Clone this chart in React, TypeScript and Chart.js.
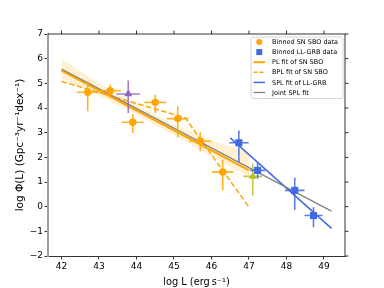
import React, { useEffect, useRef } from 'react';
import { Chart, registerables } from 'chart.js';

Chart.register(...registerables);

// Binned SN SBO data
const sboX = [42.7, 43.3, 43.9, 44.5, 45.1, 45.7, 46.3];
const sboY = [4.64, 4.7, 3.42, 4.23, 3.57, 2.65, 1.41];
const sboYLo = [3.87, 4.41, 2.99, 3.8, 2.81, 2.25, 0.66];
const sboYHi = [5.08, 4.95, 3.76, 4.54, 4.07, 3.02, 1.91];
const sboXErr = [0.29, 0.29, 0.29, 0.29, 0.29, 0.29, 0.29];

// Extra single points
const purpleX = [43.78];
const purpleY = [4.57];
const purpleYLo = [3.8];
const purpleYHi = [5.11];
const purpleXErr = [0.31];

const oliveX = [47.1];
const oliveY = [1.23];
const oliveYLo = [0.45];
const oliveYHi = [1.74];
const oliveXErr = [0.25];

// Binned LL-GRB data
const grbX = [46.73, 47.23, 48.22, 48.72];
const grbY = [2.59, 1.47, 0.66, -0.36];
const grbYLo = [1.78, 1.13, -0.14, -0.83];
const grbYHi = [3.09, 1.78, 1.17, -0.02];
const grbXErr = [0.26, 0.2, 0.26, 0.24];

// Fits
const plX = [42, 47];
const plY = [5.52, 1.47];
const bplX = [42, 45.3, 47];
const bplY = [5.08, 3.6, -0.02];
const splX = [46.5, 49.2];
const splY = [2.79, -0.88];
const jointX = [42, 49.2];
const jointY = [5.58, -0.18];

// Confidence band of PL fit
const bandX = [42, 43, 44, 45, 46, 47];
const bandUpper = [6.0, 5.0, 4.12, 3.32, 2.68, 2.2];
const bandLower = [5.2, 4.5, 3.75, 2.9, 2.05, 1.2];

const xTicksMin = 41.64;
const xTicksMax = 49.56;
const yMin = -2;
const yMax = 7;

const ORANGE = '#FFA500';
const BLUE = '#4169E1';
const PURPLE = '#9467bd';
const OLIVE = '#bcbd22';
const GRAY = '#808080';
const FONT = "'DejaVu Sans', sans-serif";

const pts = (xs: number[], ys: number[]) => xs.map((x, i) => ({ x, y: ys[i] }));
const errs = (lo: number[], hi: number[], xe: number[]) => lo.map((l, i) => ({ lo: l, hi: hi[i], xerr: xe[i] }));

const errorBarPlugin = {
  id: 'errorBars',
  beforeDatasetDraw(chart: any, args: any) {
    const ds = chart.data.datasets[args.index];
    if (!ds.errorBars) return;
    const { ctx } = chart;
    const x = chart.scales.x;
    const y = chart.scales.y;
    ctx.save();
    ctx.strokeStyle = ds.errorColor;
    ctx.globalAlpha = 0.85;
    ctx.lineWidth = 1.6;
    ds.data.forEach((p: any, i: number) => {
      const e = ds.errorBars[i];
      const px = x.getPixelForValue(p.x);
      const py = y.getPixelForValue(p.y);
      ctx.beginPath();
      ctx.moveTo(x.getPixelForValue(p.x - e.xerr), py);
      ctx.lineTo(x.getPixelForValue(p.x + e.xerr), py);
      ctx.moveTo(px, y.getPixelForValue(e.lo));
      ctx.lineTo(px, y.getPixelForValue(e.hi));
      ctx.stroke();
    });
    ctx.restore();
  },
};

const framePlugin = {
  id: 'frame',
  afterDraw(chart: any) {
    const { ctx, chartArea } = chart;
    const { left, right, top, bottom } = chartArea;
    const x = chart.scales.x;
    const y = chart.scales.y;
    ctx.save();
    ctx.strokeStyle = '#000';
    ctx.lineWidth = 0.8;
    ctx.beginPath();
    ctx.moveTo(left, top);
    ctx.lineTo(right, top);
    ctx.lineTo(right, bottom);
    x.ticks.forEach((t: any) => {
      const px = x.getPixelForValue(t.value);
      ctx.moveTo(px, top);
      ctx.lineTo(px, top - 3.5);
    });
    y.ticks.forEach((t: any) => {
      const py = y.getPixelForValue(t.value);
      ctx.moveTo(right, py);
      ctx.lineTo(right + 3.5, py);
    });
    ctx.stroke();
    ctx.restore();
  },
};

const legendPlugin = {
  id: 'customLegend',
  afterDraw(chart: any) {
    const { ctx } = chart;
    const entries = chart.data.datasets.filter((d: any) => d.legendKind);
    const bx = 251;
    const by = 37;
    const bw = 92;
    const bh = 61.5;
    ctx.save();
    ctx.beginPath();
    const r = 2;
    ctx.moveTo(bx + r, by);
    ctx.lineTo(bx + bw - r, by);
    ctx.quadraticCurveTo(bx + bw, by, bx + bw, by + r);
    ctx.lineTo(bx + bw, by + bh - r);
    ctx.quadraticCurveTo(bx + bw, by + bh, bx + bw - r, by + bh);
    ctx.lineTo(bx + r, by + bh);
    ctx.quadraticCurveTo(bx, by + bh, bx, by + bh - r);
    ctx.lineTo(bx, by + r);
    ctx.quadraticCurveTo(bx, by, bx + r, by);
    ctx.closePath();
    ctx.fillStyle = 'rgba(255,255,255,0.8)';
    ctx.fill();
    ctx.strokeStyle = '#cccccc';
    ctx.lineWidth = 0.8;
    ctx.stroke();
    ctx.font = `6.5px ${FONT}`;
    ctx.textBaseline = 'middle';
    ctx.textAlign = 'left';
    entries.forEach((d: any, i: number) => {
      const cy = by + 5 + i * 10.1;
      const hx0 = 253.5;
      const hx1 = 265;
      const col = d.legendColor;
      if (d.legendKind === 'circle') {
        ctx.fillStyle = col;
        ctx.beginPath();
        ctx.arc((hx0 + hx1) / 2, cy, 3, 0, Math.PI * 2);
        ctx.fill();
      } else if (d.legendKind === 'square') {
        ctx.fillStyle = col;
        ctx.fillRect((hx0 + hx1) / 2 - 3, cy - 3, 6, 6);
      } else {
        ctx.strokeStyle = col;
        ctx.lineWidth = d.borderWidth;
        ctx.setLineDash(d.legendKind === 'dashed' ? [4, 2] : []);
        ctx.beginPath();
        ctx.moveTo(hx0, cy);
        ctx.lineTo(hx1, cy);
        ctx.stroke();
        ctx.setLineDash([]);
      }
      ctx.fillStyle = '#000';
      ctx.fillText(d.label, 272, cy + 0.5);
    });
    ctx.restore();
  },
};

const minusFmt = (v: number) => (v < 0 ? '\u2212' + Math.abs(v) : String(v));

export default function App() {
  const ref = useRef<HTMLCanvasElement | null>(null);

  useEffect(() => {
    document.body.style.margin = '0';
    if (!ref.current) return;
    const lineBase = { showLine: true, pointRadius: 0, pointHoverRadius: 0, fill: false, tension: 0 };
    const chart = new Chart(ref.current, {
      type: 'scatter',
      data: {
        datasets: [
          {
            label: 'Binned SN SBO data',
            data: pts(sboX, sboY),
            backgroundColor: ORANGE,
            borderColor: ORANGE,
            pointRadius: 3.7,
            pointStyle: 'circle',
            borderWidth: 0,
            order: 1,
            errorBars: errs(sboYLo, sboYHi, sboXErr),
            errorColor: ORANGE,
            legendKind: 'circle',
            legendColor: ORANGE,
          } as any,
          {
            label: 'Binned LL-GRB data',
            data: pts(grbX, grbY),
            backgroundColor: BLUE,
            borderColor: BLUE,
            pointRadius: 5,
            pointStyle: 'rect',
            borderWidth: 0,
            order: 1,
            errorBars: errs(grbYLo, grbYHi, grbXErr),
            errorColor: BLUE,
            legendKind: 'square',
            legendColor: BLUE,
          } as any,
          {
            ...lineBase,
            label: 'PL fit of SN SBO',
            data: pts(plX, plY),
            borderColor: ORANGE,
            borderWidth: 2,
            order: 3,
            legendKind: 'line',
            legendColor: ORANGE,
          } as any,
          {
            ...lineBase,
            label: 'BPL fit of SN SBO',
            data: pts(bplX, bplY),
            borderColor: ORANGE,
            borderWidth: 1.5,
            borderDash: [5.5, 2.5],
            order: 3,
            legendKind: 'dashed',
            legendColor: ORANGE,
          } as any,
          {
            ...lineBase,
            label: 'SPL fit of LL-GRB',
            data: pts(splX, splY),
            borderColor: BLUE,
            borderWidth: 1.5,
            order: 3,
            legendKind: 'line',
            legendColor: BLUE,
          } as any,
          {
            ...lineBase,
            label: 'Joint SPL fit',
            data: pts(jointX, jointY),
            borderColor: GRAY,
            borderWidth: 1.3,
            order: 2,
            legendKind: 'line',
            legendColor: GRAY,
          } as any,
          {
            label: 'purple',
            data: pts(purpleX, purpleY),
            backgroundColor: PURPLE,
            borderColor: PURPLE,
            pointRadius: 4.6,
            pointStyle: 'triangle',
            borderWidth: 0,
            order: 1,
            errorBars: errs(purpleYLo, purpleYHi, purpleXErr),
            errorColor: PURPLE,
          } as any,
          {
            label: 'olive',
            data: pts(oliveX, oliveY),
            backgroundColor: OLIVE,
            borderColor: OLIVE,
            pointRadius: 4.6,
            pointStyle: 'triangle',
            borderWidth: 0,
            order: 1,
            errorBars: errs(oliveYLo, oliveYHi, oliveXErr),
            errorColor: OLIVE,
          } as any,
          {
            ...lineBase,
            label: 'band upper',
            data: pts(bandX, bandUpper),
            borderWidth: 0,
            borderColor: 'rgba(0,0,0,0)',
            backgroundColor: 'rgba(255,165,0,0.17)',
            fill: '+1',
            order: 4,
          } as any,
          {
            ...lineBase,
            label: 'band lower',
            data: pts(bandX, bandLower),
            borderWidth: 0,
            borderColor: 'rgba(0,0,0,0)',
            order: 4,
          } as any,
        ],
      },
      options: {
        responsive: false,
        animation: false,
        events: [],
        layout: { padding: { left: 0, right: 39, top: 34, bottom: 0 } },
        plugins: {
          legend: { display: false },
          tooltip: { enabled: false },
        },
        scales: {
          x: {
            type: 'linear',
            min: xTicksMin,
            max: xTicksMax,
            afterFit: (s: any) => {
              s.height = 32;
            },
            ticks: {
              stepSize: 1,
              includeBounds: false,
              color: '#000',
              font: { family: FONT, size: 9 },
              padding: 1.5,
              maxRotation: 0,
              callback: (v: any) => minusFmt(Number(v)),
            },
            grid: { display: true, drawOnChartArea: false, drawTicks: true, tickLength: 3.5, color: '#000', lineWidth: 0.8 },
            border: { display: true, color: '#000', width: 0.8 },
            title: {
              display: true,
              text: 'log L (erg\u2009s\u207B\u00B9)',
              color: '#000',
              font: { family: FONT, size: 9.8, lineHeight: 1.1 },
              padding: { top: 0, bottom: 0 },
            },
          },
          y: {
            type: 'linear',
            min: yMin,
            max: yMax,
            afterFit: (s: any) => {
              s.width = 48;
            },
            ticks: {
              stepSize: 1,
              color: '#000',
              font: { family: FONT, size: 9 },
              padding: 1.5,
              callback: (v: any) => minusFmt(Number(v)),
            },
            grid: { display: true, drawOnChartArea: false, drawTicks: true, tickLength: 3.5, color: '#000', lineWidth: 0.8 },
            border: { display: true, color: '#a0a0a0', width: 2 },
            title: {
              display: true,
              text: 'log \u03A6(L) (Gpc\u207B\u00B3yr\u207B\u00B9dex\u207B\u00B9)',
              color: '#000',
              font: { family: FONT, size: 10.5, lineHeight: 1.2 },
              padding: { top: 13.5, bottom: 0 },
            },
          },
        },
      } as any,
      plugins: [errorBarPlugin, framePlugin, legendPlugin],
    });
    return () => chart.destroy();
  }, []);

  return (
    <div style={{ width: 384, height: 288, position: 'relative' }}>
      <canvas ref={ref} width={384} height={288} style={{ display: 'block' }} />
    </div>
  );
}
